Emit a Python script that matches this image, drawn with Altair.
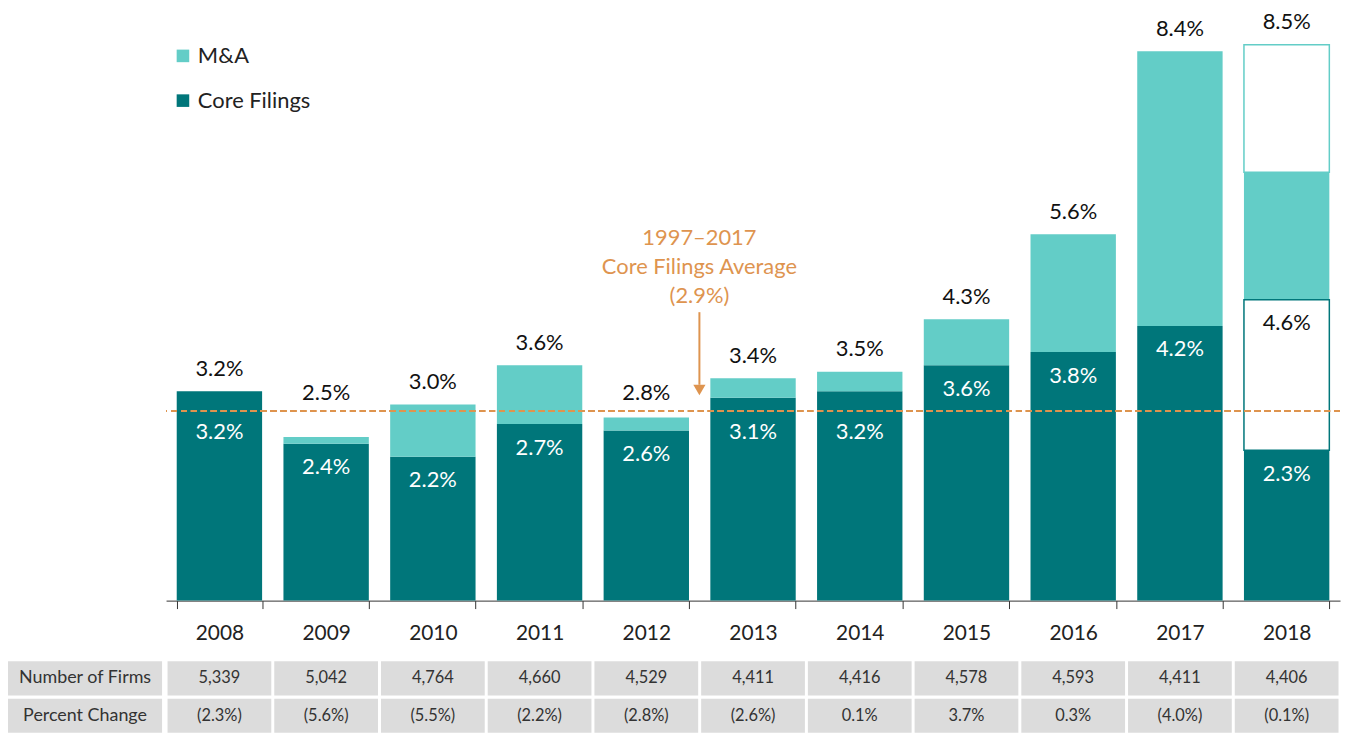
import altair as alt
import pandas as pd

# ---------------- data ----------------
years = ["2008", "2009", "2010", "2011", "2012", "2013", "2014", "2015", "2016", "2017", "2018"]
core = [3.2, 2.4, 2.2, 2.7, 2.6, 3.1, 3.2, 3.6, 3.8, 4.2, 2.3]
total = [3.2, 2.5, 3.0, 3.6, 2.8, 3.4, 3.5, 4.3, 5.6, 8.4, 8.5]
core_2018_projected = 4.6
ma_2018_actual = 1.95
firms = ["5,339", "5,042", "4,764", "4,660", "4,529", "4,411", "4,416", "4,578", "4,593", "4,411", "4,406"]
pct_change = ["(2.3%)", "(5.6%)", "(5.5%)", "(2.2%)", "(2.8%)", "(2.6%)", "0.1%", "3.7%", "0.3%", "(4.0%)", "(0.1%)"]
average = 2.9
avg_lines = "1997\u20132017\nCore Filings Average\n(2.9%)"
row_names = ["Number of Firms", "Percent Change"]

DARK = "#00767A"
LIGHT = "#63CDC7"
ORANGE = "#DE944F"
GRAY = "#DCDCDC"
FONT = "Lato"
PX = 65.8          # pixels per percentage point
H = 594
YMAX = H / PX

# ---------------- derived tables ----------------
segs = []
for y, c, t in zip(years, core, total):
    if y == "2018":
        segs.append((y, 0, c, "Core Filings"))
        segs.append((y, c, core_2018_projected, "Projected Core"))
        segs.append((y, core_2018_projected, core_2018_projected + ma_2018_actual, "M&A"))
        segs.append((y, core_2018_projected + ma_2018_actual, t, "Projected M&A"))
    else:
        segs.append((y, 0, c, "Core Filings"))
        if t > c:
            segs.append((y, c, t, "M&A"))
seg_df = pd.DataFrame(segs, columns=["year", "y0", "y1", "kind"])
actual_df = seg_df[seg_df.kind.isin(["Core Filings", "M&A"])]
proj_df = seg_df[seg_df.kind.isin(["Projected Core", "Projected M&A"])]


def above(v):
    p = v + 0.34
    if abs(p - average) < 0.3:
        p = average + 0.28
    return min(p, YMAX - 12 / PX)


def inside(v):
    p = v - 0.36
    return average - 0.33 if abs(p - average) < 0.3 else p


tot_df = pd.DataFrame({"year": years,
                       "label": [f"{t:.1f}%" for t in total],
                       "pos": [above(t) for t in total]})
white_df = pd.DataFrame({"year": years,
                         "label": [f"{c:.1f}%" for c in core],
                         "pos": [inside(c) for c in core]})
dark_df = pd.DataFrame({"year": ["2018"],
                        "label": [f"{core_2018_projected:.1f}%"],
                        "pos": [inside(core_2018_projected)]})

table_df = pd.DataFrame(
    [(y, row_names[0], f) for y, f in zip(years, firms)]
    + [(y, row_names[1], p) for y, p in zip(years, pct_change)],
    columns=["year", "row", "val"])
hdr_df = pd.DataFrame({"row": row_names, "h": ["h", "h"]})
arrow_df = pd.DataFrame({"year": ["2013"], "top": [4.41], "bot": [3.3], "tip": [3.22],
                         "txt": [avg_lines], "ty": [5.7]})

# ---------------- main chart ----------------
xs = alt.Scale(domain=years, paddingInner=0.2, paddingOuter=0.1)
ys = alt.Scale(domain=[0, YMAX], nice=False, zero=True)
X = alt.X("year:N", scale=xs, sort=years,
          axis=alt.Axis(title=None, labelAngle=0, labelFontSize=21, labelFont=FONT,
                        labelColor="#222", domainColor="#333", tickColor="#333",
                        tickSize=8, tickBand="extent", labelPadding=14, grid=False))

bars = alt.Chart(actual_df).mark_bar().encode(
    x=X,
    y=alt.Y("y0:Q", scale=ys, axis=None),
    y2="y1:Q",
    color=alt.Color("kind:N",
                    scale=alt.Scale(domain=["M&A", "Core Filings"], range=[LIGHT, DARK]),
                    legend=alt.Legend(orient="none", legendX=165, legendY=35, title=None,
                                      symbolType="square", symbolSize=160, symbolStrokeWidth=0,
                                      labelFontSize=22, labelFont=FONT, labelColor="#222",
                                      rowPadding=23, labelOffset=4)),
)
proj = alt.Chart(proj_df).mark_bar(fill="white", strokeWidth=1.5).encode(
    x=X,
    y=alt.Y("y0:Q", scale=ys),
    y2="y1:Q",
    stroke=alt.Stroke("kind:N",
                      scale=alt.Scale(domain=["Projected Core", "Projected M&A"], range=[DARK, LIGHT]),
                      legend=None),
)
avg_rule = alt.Chart(tot_df).mark_rule(color=ORANGE, strokeDash=[6, 4], strokeWidth=1.5).encode(
    y=alt.datum(average))
tot_text = alt.Chart(tot_df).mark_text(fontSize=22, font=FONT, color="#111", baseline="middle").encode(
    x=X, y=alt.Y("pos:Q", scale=ys), text="label:N")
white_text = alt.Chart(white_df).mark_text(fontSize=22, font=FONT, color="white", baseline="middle").encode(
    x=X, y=alt.Y("pos:Q", scale=ys), text="label:N")
dark_text = alt.Chart(dark_df).mark_text(fontSize=22, font=FONT, color="#111", baseline="middle").encode(
    x=X, y=alt.Y("pos:Q", scale=ys), text="label:N")
arrow_line = alt.Chart(arrow_df).mark_rule(color=ORANGE, strokeWidth=2).encode(
    x=alt.X("year:N", scale=xs, bandPosition=0), xOffset=alt.value(-11),
    y=alt.Y("top:Q", scale=ys), y2="bot:Q")
arrow_head = alt.Chart(arrow_df).mark_point(shape="triangle-down", filled=True, size=150,
                                            color=ORANGE, opacity=1).encode(
    x=alt.X("year:N", scale=xs, bandPosition=0), xOffset=alt.value(-11),
    y=alt.Y("tip:Q", scale=ys))
arrow_text = alt.Chart(arrow_df).mark_text(fontSize=22, font=FONT, color=ORANGE, baseline="top",
                                           lineBreak="\n", lineHeight=29.5, dx=-11).encode(
    x=alt.X("year:N", scale=xs, bandPosition=0), y=alt.Y("ty:Q", scale=ys), text="txt:N")

main = alt.layer(bars, proj, avg_rule, tot_text, white_text, dark_text,
                 arrow_line, arrow_head, arrow_text).properties(width=1181, height=H)

# ---------------- table ----------------
tx = alt.Scale(domain=years, paddingInner=0.028, paddingOuter=0.014)
ty = alt.Scale(domain=row_names, paddingInner=0.085, paddingOuter=0)
cells = alt.Chart(table_df).mark_rect(color=GRAY).encode(
    x=alt.X("year:N", scale=tx, axis=None, sort=years),
    y=alt.Y("row:N", scale=ty, axis=None, sort=row_names))
cell_text = alt.Chart(table_df).mark_text(fontSize=16.5, font=FONT, color="#333").encode(
    x=alt.X("year:N", scale=tx, axis=None, sort=years),
    y=alt.Y("row:N", scale=ty, axis=None, sort=row_names),
    text="val:N")
table = alt.layer(cells, cell_text).properties(width=1181, height=72)

hx = alt.Scale(domain=["h"], paddingInner=0, paddingOuter=0)
hdr_cells = alt.Chart(hdr_df).mark_rect(color=GRAY).encode(
    x=alt.X("h:N", scale=hx, axis=None),
    y=alt.Y("row:N", scale=ty, axis=None, sort=row_names))
hdr_text = alt.Chart(hdr_df).mark_text(fontSize=18, font=FONT, color="#333").encode(
    x=alt.X("h:N", scale=hx, axis=None),
    y=alt.Y("row:N", scale=ty, axis=None, sort=row_names),
    text="row:N")
header = alt.layer(hdr_cells, hdr_text).properties(width=155, height=72)

spacer = alt.Chart(hdr_df).mark_text(text="").encode(
    x=alt.value(20), y=alt.value(20)).properties(width=155, height=H)

chart = alt.concat(spacer, main, header, table, columns=2,
                   spacing={"row": 18, "column": 3}).properties(
    padding=0, background="white"
).configure(font=FONT, view=alt.ViewConfig(strokeWidth=0))

chart.save("out.html", embed_options={"renderer": "svg", "actions": False})
